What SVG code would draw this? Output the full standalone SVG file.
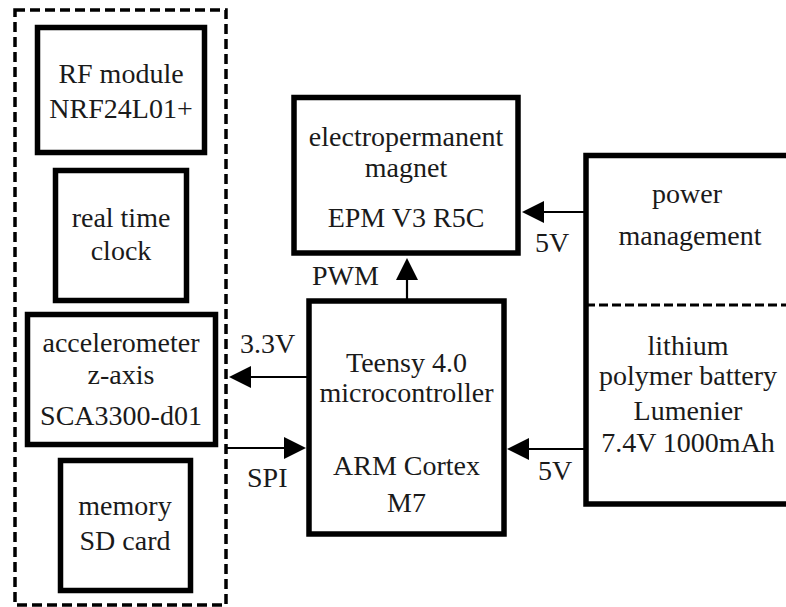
<svg xmlns="http://www.w3.org/2000/svg" width="786" height="607" viewBox="0 0 786 607">
<style>
.box{fill:#fff;stroke:#000;stroke-width:5.5}
.dash{fill:none;stroke:#000;stroke-width:3.5;stroke-dasharray:10 5}
.t{font-family:"Liberation Serif","Times New Roman",serif;font-size:28px;fill:#1a1a1a;text-anchor:middle}
.l{font-family:"Liberation Serif","Times New Roman",serif;font-size:28px;fill:#1a1a1a}
.wire{stroke:#000;stroke-width:2.2;fill:none}
.head{fill:#000}
</style>
<rect width="786" height="607" fill="#fff"/>
<g id="peripherals">
<rect class="dash" x="15" y="10" width="211" height="595"/>
</g>
<g id="rf">
<rect class="box" x="37.5" y="27.5" width="167" height="125"/>
<text class="t" x="121" y="83">RF module</text>
<text class="t" x="121" y="118">NRF24L01+</text>
</g>
<g id="rtc">
<rect class="box" x="55.5" y="170.5" width="131" height="130"/>
<text class="t" x="121" y="227">real time</text>
<text class="t" x="121" y="260">clock</text>
</g>
<g id="accel">
<rect class="box" x="27.5" y="314.5" width="188" height="130"/>
<text class="t" x="121" y="352">accelerometer</text>
<text class="t" x="121" y="384">z-axis</text>
<text class="t" x="121" y="425">SCA3300-d01</text>
</g>
<g id="sd">
<rect class="box" x="60.5" y="460.5" width="130" height="130"/>
<text class="t" x="125" y="515">memory</text>
<text class="t" x="125" y="550">SD card</text>
</g>
<g id="epm">
<rect class="box" x="294" y="97.5" width="224" height="155.5"/>
<text class="t" x="406" y="146">electropermanent</text>
<text class="t" x="406" y="177">magnet</text>
<text class="t" x="406" y="227">EPM V3 R5C</text>
</g>
<g id="teensy">
<rect class="box" x="309" y="301" width="195" height="233"/>
<text class="t" x="406.5" y="372">Teensy 4.0</text>
<text class="t" x="406.5" y="402">microcontroller</text>
<text class="t" x="406.5" y="475">ARM Cortex</text>
<text class="t" x="406.5" y="512">M7</text>
</g>
<g id="power">
<rect class="box" x="586" y="155.5" width="220" height="348.5"/>
<line x1="586" y1="305" x2="786" y2="305" stroke="#000" stroke-width="3" stroke-dasharray="9 4"/>
<text class="t" x="687" y="203">power</text>
<text class="t" x="690" y="245">management</text>
<text class="t" x="688" y="355">lithium</text>
<text class="t" x="688" y="385">polymer battery</text>
<text class="t" x="688" y="420">Lumenier</text>
<text class="t" x="688" y="452">7.4V 1000mAh</text>
</g>
<g id="connectors">
<line class="wire" x1="407" y1="301" x2="407" y2="276"/>
<polygon class="head" points="407,258 396,280 418,280"/>
<line class="wire" x1="309" y1="377" x2="248" y2="377"/>
<polygon class="head" points="229,377 251,366 251,388"/>
<line class="wire" x1="226" y1="448" x2="288" y2="448"/>
<polygon class="head" points="306,448 284,437 284,459"/>
<line class="wire" x1="586" y1="212" x2="540" y2="212"/>
<polygon class="head" points="522,212 544,201 544,223"/>
<line class="wire" x1="586" y1="449" x2="525" y2="449"/>
<polygon class="head" points="507,449 529,438 529,460"/>
<text class="l" x="312" y="285">PWM</text>
<text class="l" x="240" y="353">3.3V</text>
<text class="l" x="247" y="487">SPI</text>
<text class="l" x="535" y="252">5V</text>
<text class="l" x="538" y="480">5V</text>
</g>
</svg>
